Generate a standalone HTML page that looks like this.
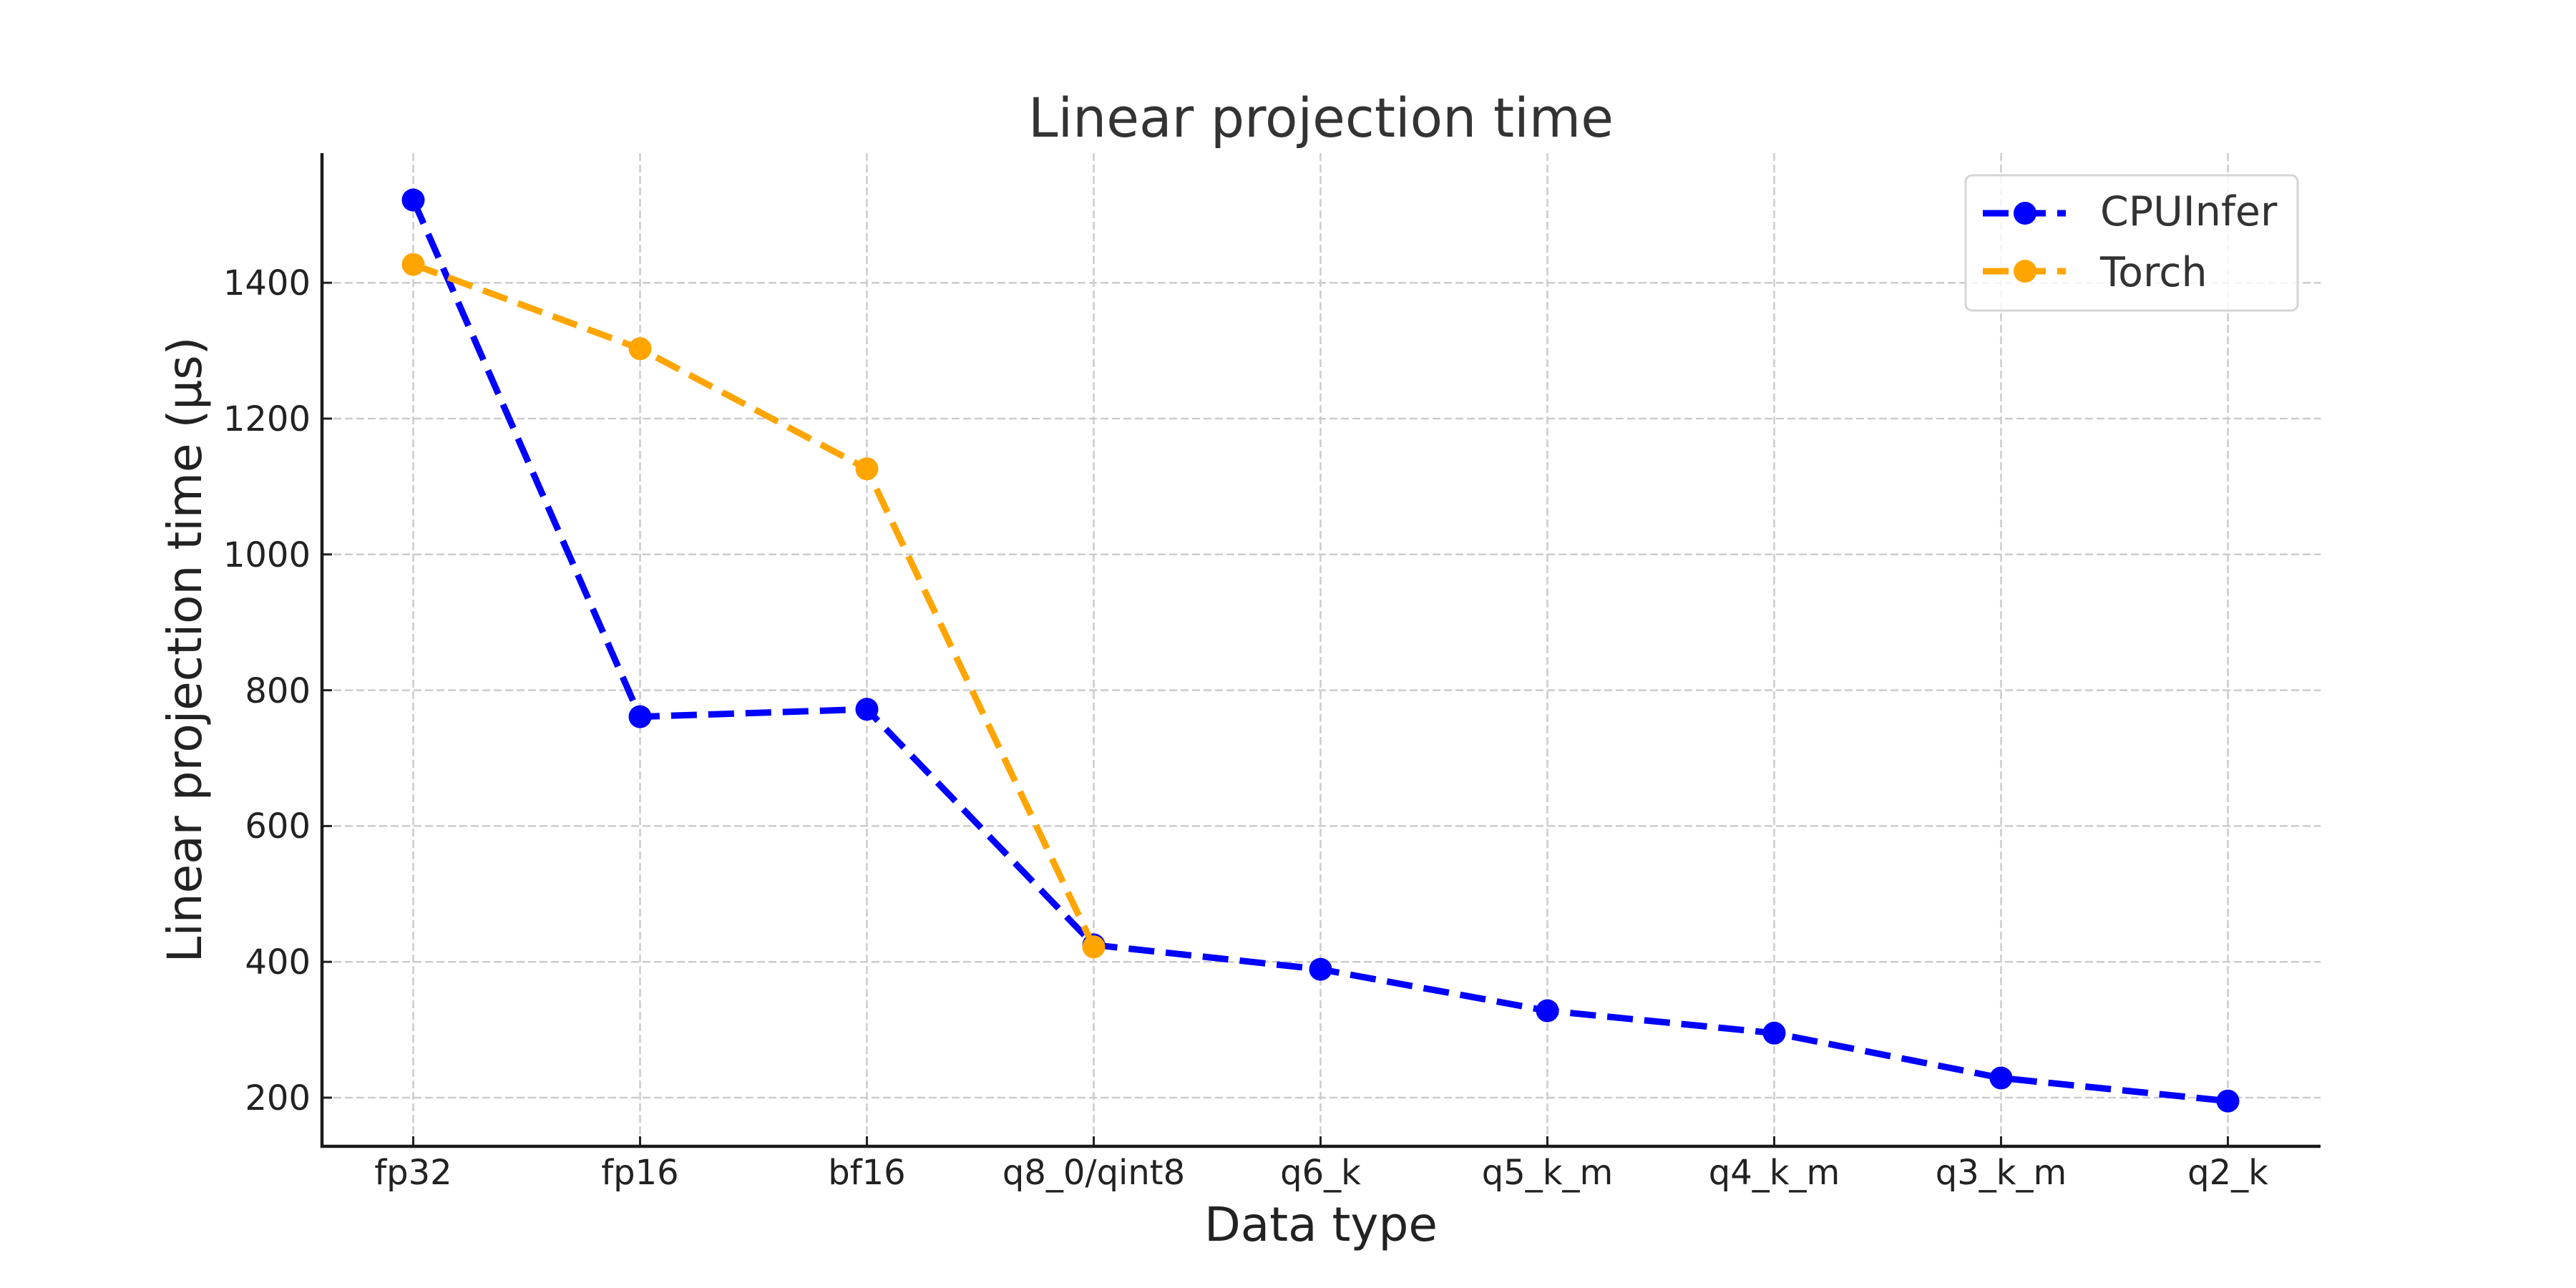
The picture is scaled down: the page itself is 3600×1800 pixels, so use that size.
<!DOCTYPE html>
<html><head><meta charset="utf-8"><style>html,body{margin:0;padding:0;background:#fff}svg{display:block}</style></head><body>
<svg width="3600" height="1800" viewBox="0 0 3600 1800" xmlns="http://www.w3.org/2000/svg" font-family="DejaVu Sans, Liberation Sans, sans-serif">
<rect width="3600" height="1800" fill="#fff"/>
<g stroke="#cccccc" stroke-width="2.5" stroke-dasharray="11,5">
<line x1="450" x2="3243" y1="1534" y2="1534"/><line x1="450" x2="3243" y1="1344.2" y2="1344.2"/><line x1="450" x2="3243" y1="1154.4" y2="1154.4"/><line x1="450" x2="3243" y1="964.6" y2="964.6"/><line x1="450" x2="3243" y1="774.8" y2="774.8"/><line x1="450" x2="3243" y1="585" y2="585"/><line x1="450" x2="3243" y1="395.2" y2="395.2"/>
<line y1="214" y2="1602" x1="577.5" x2="577.5"/><line y1="214" y2="1602" x1="894.5" x2="894.5"/><line y1="214" y2="1602" x1="1211.5" x2="1211.5"/><line y1="214" y2="1602" x1="1528.5" x2="1528.5"/><line y1="214" y2="1602" x1="1845.5" x2="1845.5"/><line y1="214" y2="1602" x1="2162.5" x2="2162.5"/><line y1="214" y2="1602" x1="2479.5" x2="2479.5"/><line y1="214" y2="1602" x1="2796.5" x2="2796.5"/><line y1="214" y2="1602" x1="3113.5" x2="3113.5"/>
</g>
<g stroke="#222" stroke-width="3">
<line x1="450" x2="464" y1="1534" y2="1534"/><line x1="450" x2="464" y1="1344.2" y2="1344.2"/><line x1="450" x2="464" y1="1154.4" y2="1154.4"/><line x1="450" x2="464" y1="964.6" y2="964.6"/><line x1="450" x2="464" y1="774.8" y2="774.8"/><line x1="450" x2="464" y1="585" y2="585"/><line x1="450" x2="464" y1="395.2" y2="395.2"/>
<line y1="1602" y2="1588" x1="577.5" x2="577.5"/><line y1="1602" y2="1588" x1="894.5" x2="894.5"/><line y1="1602" y2="1588" x1="1211.5" x2="1211.5"/><line y1="1602" y2="1588" x1="1528.5" x2="1528.5"/><line y1="1602" y2="1588" x1="1845.5" x2="1845.5"/><line y1="1602" y2="1588" x1="2162.5" x2="2162.5"/><line y1="1602" y2="1588" x1="2479.5" x2="2479.5"/><line y1="1602" y2="1588" x1="2796.5" x2="2796.5"/><line y1="1602" y2="1588" x1="3113.5" x2="3113.5"/>
</g>
<g stroke="#1a1a1a" stroke-width="4.5" fill="none"><line x1="450" y1="214" x2="450" y2="1604"/><line x1="448" y1="1602" x2="3243" y2="1602"/></g>
<g font-size="48" fill="#222" text-anchor="end">
<text x="434" y="1551">200</text><text x="434" y="1361">400</text><text x="434" y="1171">600</text><text x="434" y="982">800</text><text x="434" y="792">1000</text><text x="434" y="602">1200</text><text x="434" y="412">1400</text>
</g>
<g font-size="48" fill="#222" text-anchor="middle">
<text x="577.5" y="1655">fp32</text><text x="894.5" y="1655">fp16</text><text x="1211.5" y="1655">bf16</text><text x="1528.5" y="1655">q8_0/qint8</text><text x="1845.5" y="1655">q6_k</text><text x="2162.5" y="1655">q5_k_m</text><text x="2479.5" y="1655">q4_k_m</text><text x="2796.5" y="1655">q3_k_m</text><text x="3113.5" y="1655">q2_k</text>
</g>
<text x="1846" y="1734" font-size="66" fill="#222" text-anchor="middle">Data type</text>
<text transform="translate(281,908) rotate(-90)" font-size="66" fill="#222" text-anchor="middle">Linear projection time (µs)</text>
<text x="1846" y="191" font-size="76" fill="#333" text-anchor="middle" textLength="818" lengthAdjust="spacingAndGlyphs">Linear projection time</text>
<polyline fill="none" stroke="#0000ff" stroke-width="9" stroke-dasharray="36,16" points="577.5,279.5 894.5,1001.6 1211.5,991.2 1528.5,1320.5 1845.5,1354.6 2162.5,1412.5 2479.5,1443.8 2796.5,1506.5 3113.5,1538.7"/>
<g fill="#0000ff"><circle cx="577.5" cy="279.5" r="16"/><circle cx="894.5" cy="1001.6" r="16"/><circle cx="1211.5" cy="991.2" r="16"/><circle cx="1528.5" cy="1320.5" r="16"/><circle cx="1845.5" cy="1354.6" r="16"/><circle cx="2162.5" cy="1412.5" r="16"/><circle cx="2479.5" cy="1443.8" r="16"/><circle cx="2796.5" cy="1506.5" r="16"/><circle cx="3113.5" cy="1538.7" r="16"/></g>
<polyline fill="none" stroke="#ffa500" stroke-width="9" stroke-dasharray="36,16" points="577.5,369.6 894.5,487.3 1211.5,655.2 1528.5,1323.3"/>
<g fill="#ffa500"><circle cx="577.5" cy="369.6" r="16"/><circle cx="894.5" cy="487.3" r="16"/><circle cx="1211.5" cy="655.2" r="16"/><circle cx="1528.5" cy="1323.3" r="16"/></g>
<rect x="2747" y="245" width="464" height="189" rx="9" fill="#fff" fill-opacity="0.8" stroke="#d5d5d5" stroke-width="3"/>
<line x1="2771" y1="298" x2="2887" y2="298" stroke="#0000ff" stroke-width="9" stroke-dasharray="36,16"/>
<circle cx="2830" cy="298" r="16" fill="#0000ff"/>
<line x1="2771" y1="379" x2="2887" y2="379" stroke="#ffa500" stroke-width="9" stroke-dasharray="36,16"/>
<circle cx="2830" cy="379" r="16" fill="#ffa500"/>
<text x="2935" y="315" font-size="57" fill="#333">CPUInfer</text>
<text x="2935" y="400" font-size="57" fill="#333">Torch</text>
</svg>
</body></html>
